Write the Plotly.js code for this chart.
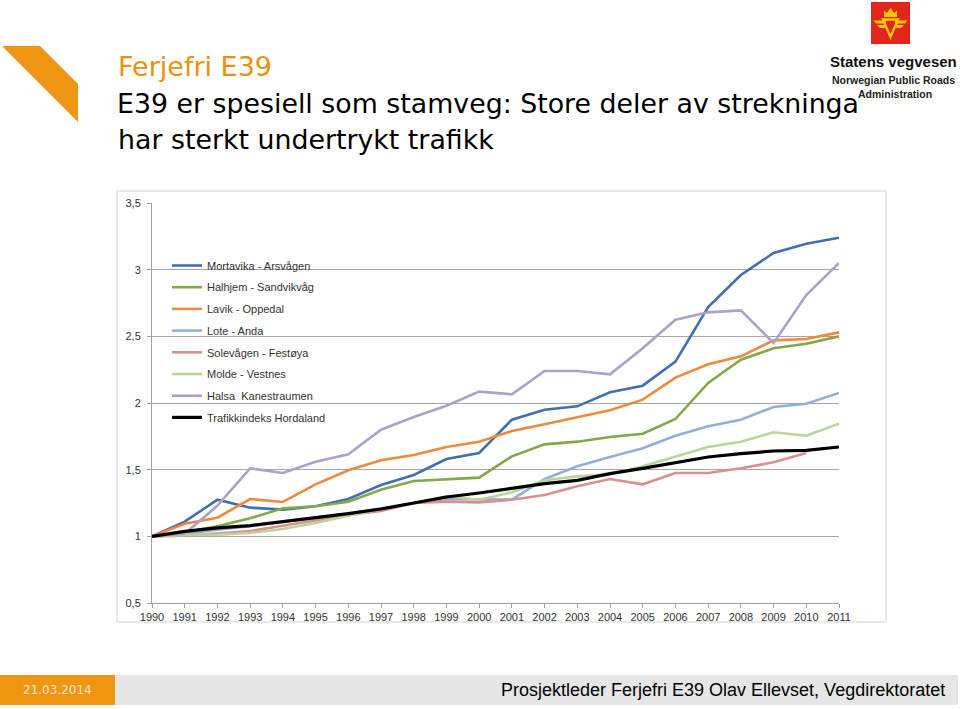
<!DOCTYPE html>
<html>
<head>
<meta charset="utf-8">
<script src="https://cdn.plot.ly/plotly-3.0.1.min.js"></script>
<style>
  html, body { margin: 0; padding: 0; background: #ffffff; }
  #chart { width: 960px; height: 709px; }
</style>
</head>
<body>
<div id="chart"></div>
<script>
// ---------- DATA ----------
const years = [1990,1991,1992,1993,1994,1995,1996,1997,1998,1999,2000,2001,2002,2003,2004,2005,2006,2007,2008,2009,2010,2011];

const seriesNames = [
  "Mortavika - Arsvågen",
  "Halhjem - Sandvikvåg",
  "Lavik - Oppedal",
  "Lote - Anda",
  "Solevågen - Festøya",
  "Molde - Vestnes",
  "Halsa  Kanestraumen",
  "Trafikkindeks Hordaland"
];

const mortavika = [1.00,1.11,1.275,1.215,1.20,1.225,1.28,1.385,1.46,1.58,1.625,1.875,1.95,1.975,2.08,2.13,2.31,2.72,2.96,3.125,3.195,3.24];
const halhjem   = [1.00,1.03,1.075,1.135,1.21,1.225,1.26,1.35,1.415,1.43,1.44,1.60,1.69,1.71,1.745,1.77,1.88,2.15,2.325,2.41,2.445,2.50];
const lavik     = [1.00,1.095,1.14,1.28,1.258,1.39,1.495,1.57,1.61,1.67,1.71,1.79,1.84,1.89,1.945,2.025,2.19,2.29,2.35,2.47,2.48,2.53];
const lote      = [1.00,1.02,1.05,1.075,1.11,1.14,1.17,1.21,1.25,1.28,1.28,1.275,1.43,1.525,1.595,1.66,1.755,1.825,1.875,1.97,1.995,2.075];
const solevagen = [1.00,1.005,1.02,1.04,1.08,1.12,1.16,1.19,1.25,1.26,1.255,1.275,1.31,1.375,1.43,1.39,1.475,1.475,1.51,1.555,1.625,null];
const molde     = [1.00,1.01,1.013,1.025,1.055,1.10,1.155,1.20,1.25,1.30,1.275,1.33,1.42,1.45,1.465,1.525,1.595,1.67,1.71,1.78,1.755,1.845];
const halsa     = [1.00,1.02,1.23,1.51,1.475,1.56,1.615,1.80,1.895,1.98,2.085,2.065,2.24,2.24,2.215,2.41,2.625,2.68,2.695,2.45,2.81,3.05];
const hordaland = [1.00,1.037,1.063,1.08,1.11,1.137,1.17,1.205,1.25,1.295,1.325,1.36,1.395,1.42,1.47,1.51,1.555,1.595,1.62,1.64,1.645,1.67];

const yTickVals = [0.5,1,1.5,2,2.5,3,3.5];
const yTickText = ["0,5","1","1,5","2","2,5","3","3,5"];
const xTickText = years.map(String);

const titleTop   = "Ferjefri E39";
const titleLine1 = "E39 er spesiell som stamveg: Store deler av strekninga";
const titleLine2 = "har sterkt undertrykt trafikk";
const logoName   = "Statens vegvesen";
const logoSub1   = "Norwegian Public Roads";
const logoSub2   = "Administration";
const footerDate = "21.03.2014";
const footerText = "Prosjektleder Ferjefri E39 Olav Ellevset, Vegdirektoratet";

// ---------- STYLE ----------
const allSeries = [mortavika, halhjem, lavik, lote, solevagen, molde, halsa, hordaland];
const colors = ["#4170AE","#84A749","#EE8B3A","#93AFD9","#D9908E","#BCD498","#ADA0C9","#000000"];
const widths = [2.6,2.6,2.6,2.6,2.6,2.6,2.6,3.2];

// plot area in pixels
const L = 152, R = 839, T = 203, B = 603;
const px = x => (x - L) / (R - L);
const py = y => (B - y) / (B - T);
function path(pts, close) {
  let s = "";
  pts.forEach((p, i) => { s += (i === 0 ? "M" : " L") + px(p[0]).toFixed(5) + "," + py(p[1]).toFixed(5); });
  return s + (close ? " Z" : "");
}

const traces = allSeries.map((vals, i) => ({
  type: "scatter",
  mode: "lines",
  x: years,
  y: vals,
  name: seriesNames[i],
  legendgroup: "g" + i,
  line: { color: colors[i], width: widths[i] },
  connectgaps: false,
  hoverinfo: "skip"
}));

const ORANGE = "#EE9512";
const YEL = "#F7C600";

const shapes = [
  // orange corner mark
  { type: "path", xref: "paper", yref: "paper", path: path([[2,46],[40,46],[78,84],[78,122]], true),
    fillcolor: ORANGE, line: { width: 0 } },
  // chart frame
  { type: "rect", xref: "paper", yref: "paper", x0: px(117), x1: px(886), y0: py(622), y1: py(191),
    line: { color: "#D4D4D4", width: 1 }, fillcolor: "rgba(0,0,0,0)", layer: "below" },
  // footer bar
  { type: "rect", xref: "paper", yref: "paper", x0: px(0), x1: px(958), y0: py(705), y1: py(675),
    fillcolor: "#E6E6E6", line: { width: 0 } },
  { type: "rect", xref: "paper", yref: "paper", x0: px(0), x1: px(115), y0: py(705), y1: py(675),
    fillcolor: ORANGE, line: { width: 0 } },
  // logo red square
  { type: "rect", xref: "paper", yref: "paper", x0: px(871), x1: px(910), y0: py(44), y1: py(2),
    fillcolor: "#E3261C", line: { width: 0 } },
  // crown
  { type: "path", xref: "paper", yref: "paper",
    path: path([[884,17],[884,10.5],[887,13],[890.5,7.5],[894,13],[897,10.5],[897,17]], true),
    fillcolor: YEL, line: { width: 0 } },
  // wings left
  { type: "path", xref: "paper", yref: "paper", path: path([[873.5,20.5],[886,20.5],[886,23.5],[876,23.5]], true),
    fillcolor: YEL, line: { width: 0 } },
  { type: "path", xref: "paper", yref: "paper", path: path([[877,25],[886,25],[886,28],[880,28]], true),
    fillcolor: YEL, line: { width: 0 } },
  // wings right
  { type: "path", xref: "paper", yref: "paper", path: path([[907.5,20.5],[895,20.5],[895,23.5],[905,23.5]], true),
    fillcolor: YEL, line: { width: 0 } },
  { type: "path", xref: "paper", yref: "paper", path: path([[904,25],[895,25],[895,28],[901,28]], true),
    fillcolor: YEL, line: { width: 0 } },
  // triangle
  { type: "path", xref: "paper", yref: "paper", path: path([[883,19.5],[898,19.5],[890.5,37]], true),
    fillcolor: "rgba(0,0,0,0)", line: { color: YEL, width: 2.4 } }
];

function ann(text, x, y, xanchor, size, color, family, extra) {
  return Object.assign({
    text: text, xref: "paper", yref: "paper", x: px(x), y: py(y),
    xanchor: xanchor, yanchor: "middle", showarrow: false,
    font: { size: size, color: color, family: family }
  }, extra || {});
}

const annotations = [
  ann(titleTop, 116, 67, "left", 27, "#E8930A", "DejaVu Sans"),
  ann(titleLine1, 116, 104, "left", 26.8, "#000000", "DejaVu Sans", { borderpad: 0 }),
  ann(titleLine2, 116, 139, "left", 26.8, "#000000", "DejaVu Sans"),
  ann("<b>" + logoName + "</b>", 893, 61, "center", 15, "#111111", "Liberation Sans"),
  ann("<b>" + logoSub1 + "</b>", 893, 80, "center", 10.5, "#222222", "Liberation Sans"),
  ann("<b>" + logoSub2 + "</b>", 895, 93.5, "center", 10.5, "#222222", "Liberation Sans", { borderpad: 0 }),
  ann(footerDate, 57, 690, "center", 12, "#FFE9C9", "DejaVu Sans"),
  ann(footerText, 947, 690, "right", 18, "#000000", "Liberation Sans")
];

const layout = {
  width: 960, height: 709,
  margin: { l: L, r: 960 - R, t: T, b: 709 - B, pad: 0 },
  paper_bgcolor: "#ffffff",
  plot_bgcolor: "rgba(0,0,0,0)",
  showlegend: true,
  legend: {
    x: px(167), y: py(251), xanchor: "left", yanchor: "top",
    bgcolor: "rgba(0,0,0,0)", borderwidth: 0,
    font: { family: "Liberation Sans", size: 11, color: "#333333" },
    tracegroupgap: 2.7, itemwidth: 30, traceorder: "grouped"
  },
  xaxis: {
    type: "linear", range: [1990, 2011], tickmode: "array", tickvals: years, ticktext: xTickText,
    ticks: "outside", ticklen: 4, tickcolor: "#A0A0A0", showline: true, linecolor: "#A0A0A0", linewidth: 1,
    showgrid: false, zeroline: false,
    tickfont: { family: "Liberation Sans", size: 11, color: "#333333" }
  },
  yaxis: {
    range: [0.5, 3.5], tickmode: "array", tickvals: yTickVals, ticktext: yTickText,
    ticks: "outside", ticklen: 4, tickcolor: "#A0A0A0", showline: true, linecolor: "#A0A0A0", linewidth: 1,
    showgrid: true, gridcolor: "#A6A6A6", gridwidth: 1, zeroline: false, ticklabelstandoff: 4,
    tickfont: { family: "Liberation Sans", size: 11, color: "#333333" }
  },
  shapes: shapes,
  annotations: annotations,
  hovermode: false
};

Plotly.newPlot("chart", traces, layout, { staticPlot: true, displayModeBar: false });
</script>
</body>
</html>
